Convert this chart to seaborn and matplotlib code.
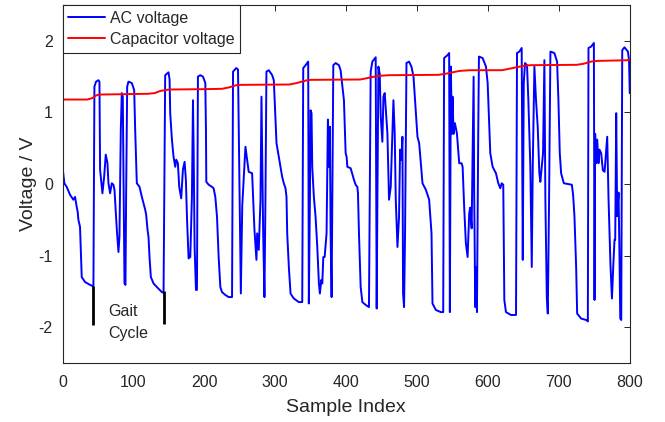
import matplotlib
matplotlib.use("Agg")
import matplotlib.pyplot as plt
import numpy as np
import seaborn as sns

# AC voltage trace (sample index, volts)
ac_index = [0, 2.6, 5.9, 10.6, 15.3, 17.7, 20.0, 21.4, 22.4, 24.7, 27.1, 31.8, 38.9, 43.6,
            45.0, 47.3, 50.6, 52.1, 53.0, 54.0, 56.3, 58.7, 61.0, 63.4, 64.8, 67.1, 69.5, 71.8,
            73.3, 76.6, 78.9, 80.3, 82.2, 83.6, 85.0, 86.0, 87.4, 88.8, 89.7, 91.2, 93.0, 97.8,
            101.1, 102.5, 104.8, 108.6, 111.9, 114.2, 116.6, 118.0, 119.9, 121.3, 122.7, 124.6,
            128.4, 133.1, 140.1, 142.5, 144.8, 149.5, 151.0, 151.9, 154.3, 156.6, 159.0, 160.4,
            162.7, 164.6, 167.4, 169.8, 172.2, 174.0, 175.5, 177.8, 180.2, 182.5, 184.0, 184.9,
            186.3, 188.2, 189.6, 190.5, 191.0, 194.3, 198.1, 201.4, 202.3, 202.8, 206.1, 210.8,
            213.1, 215.5, 217.9, 220.2, 222.6, 224.9, 229.6, 234.3, 239.1, 240.5, 245.0, 247.5,
            251.5, 253.5, 258.0, 262.6, 267.4, 270.7, 273.5, 274.5, 276.8, 279.2, 280.6, 283.0,
            284.8, 286.2, 287.6, 290.9, 295.7, 298.0, 301.8, 305.0, 307.4, 309.8, 312.1, 314.5,
            315.9, 316.9, 319.2, 321.6, 326.2, 333.3, 338.1, 339.5, 342.8, 346.5, 347.4, 348.9,
            349.8, 351.2, 352.2, 354.5, 356.9, 359.3, 361.6, 363.0, 365.0, 366.4, 367.8, 369.7,
            372.4, 374.3, 375.7, 377.1, 378.1, 379.5, 380.5, 381.9, 385.2, 389.8, 392.2, 396.9,
            399.3, 400.7, 401.7, 406.4, 411.0, 413.4, 415.8, 416.7, 418.1, 420.5, 422.9, 427.6,
            432.2, 434.6, 437.0, 441.7, 443.1, 444.1, 445.5, 447.4, 448.8, 451.1, 452.6, 454.4,
            458.2, 460.5, 462.9, 465.3, 466.7, 468.5, 470.0, 472.4, 474.6, 476.1, 478.0, 479.4,
            480.3, 481.7, 483.1, 485.1, 488.8, 492.1, 495.0, 498.2, 500.6, 503.0, 507.7, 512.4,
            517.1, 520.4, 521.8, 526.5, 533.6, 536.9, 538.2, 543.0, 545.3, 546.3, 547.7, 549.1,
            550.1, 551.5, 553.4, 556.2, 559.5, 562.8, 564.3, 566.5, 568.9, 571.3, 573.6, 575.0,
            577.0, 579.8, 580.6, 582.1, 583.0, 584.5, 586.3, 587.3, 592.5, 597.2, 599.6, 601.9,
            603.3, 606.6, 611.3, 614.6, 617.4, 619.4, 621.6, 623.1, 625.4, 632.5, 639.6, 641.0,
            644.3, 647.6, 649.1, 650.5, 652.3, 655.1, 657.0, 659.8, 661.8, 663.2, 665.5, 667.8,
            670.2, 672.5, 673.9, 675.9, 677.7, 679.6, 681.0, 683.0, 684.4, 686.2, 688.1, 693.7,
            697.5, 699.4, 701.3, 703.2, 707.0, 712.6, 718.3, 720.1, 722.0, 724.4, 725.8, 731.4,
            738.5, 740.9, 741.8, 745.6, 749.4, 750.3, 751.2, 752.7, 754.1, 755.9, 757.4, 759.7,
            762.1, 764.5, 766.8, 768.2, 770.1, 772.9, 774.9, 776.7, 778.5, 779.5, 780.9, 782.3,
            784.2, 785.6, 786.6, 788.0, 789.4, 792.6, 797.4, 799.0, 800.0]
ac_volts = [0.24, 0.01, -0.04, -0.15, -0.22, -0.18, -0.32, -0.39, -0.50, -0.60, -1.30, -1.37, -1.41, -1.43,
            1.36, 1.43, 1.45, 1.43, 0.20, 0.10, -0.13, 0.10, 0.41, 0.29, 0.01, -0.13, 0.01, -0.01,
            -0.08, -0.64, -0.95, -0.74, 0.75, 1.27, 1.22, 0.06, -1.39, -1.41, -0.18, 1.36, 1.43, 1.41,
            1.31, 0.75, 0.01, -0.04, -0.18, -0.27, -0.36, -0.43, -0.64, -0.74, -1.02, -1.30,
            -1.39, -1.44, -1.51, -1.52, 1.52, 1.56, 1.46, 0.99, 0.62, 0.38, 0.24, 0.34,
            0.29, -0.04, -0.20, 0.20, 0.31, 0.06, -0.46, -1.04, -1.02, -0.18, 1.17, 0.52,
            -0.88, -1.48, -1.48, 0.29, 1.50, 1.52, 1.50, 1.41, 0.76, 0.03, -0.01, -0.04,
            -0.06, -0.18, -0.46, -1.02, -1.44, -1.51, -1.55, -1.58, -1.58, 1.57, 1.62, 1.60,
            -1.53, -0.30, 0.52, 0.17, 0.15, -0.64, -1.06, -0.69, -0.92, -0.22, 1.22, -0.69,
            -1.58, -0.22, 1.57, 1.59, 1.52, 1.45, 0.57, 0.38, 0.24, 0.10, 0.01, -0.06,
            -0.18, -0.69, -1.16, -1.53, -1.60, -1.65, -1.65, 1.62, 1.66, 1.71, -1.67, -0.22,
            1.03, 0.99, 0.24, -0.18, -0.46, -0.88, -1.39, -1.53, -1.34, -1.39, -1.02, -1.02,
            -0.69, 0.90, 0.24, 0.80, -0.69, -1.58, -0.22, 1.66, 1.69, 1.66, 1.59, 1.17,
            0.43, 0.38, 0.24, 0.22, 0.06, -0.01, -0.04, -0.13, -0.69, -1.44, -1.65, -1.69,
            -1.72, 1.57, 1.71, 1.77, -1.74, -0.22, 1.64, 1.54, 0.94, 0.59, 1.22, 1.27,
            0.71, -0.22, -0.04, 0.71, 1.17, 0.71, -0.22, -0.88, -0.46, 0.48, 0.34, 0.66,
            -1.53, -1.72, -0.69, 1.69, 1.71, 1.64, 1.50, 1.03, 0.66, 0.57, 0.01, -0.08,
            -0.22, -0.69, -1.67, -1.76, -1.79, -1.79, 1.76, 1.80, 1.83, -1.79, 1.64, 0.70,
            1.22, 0.70, 0.85, 0.71, 0.29, 0.29, 0.24, -0.33, -0.83, -1.02, -0.41, -0.33,
            -0.62, 1.50, -0.13, -1.72, -1.16, -1.79, 0.71, 1.78, 1.76, 1.64, 1.41, 0.80,
            0.43, 0.24, 0.15, 0.01, -0.06, 0.01, -0.01, -1.62, -1.79, -1.83, -1.83, 1.83,
            1.85, 1.90, -1.06, 1.41, 1.69, 1.66, 1.17, 0.24, -1.16, 0.24, 1.64, 1.17,
            0.80, 0.15, 0.03, 0.24, 0.43, 1.73, -0.22, -1.58, -1.81, -0.22, 1.85, 1.83,
            1.71, 1.17, 0.43, 0.15, 0.01, 0.00, -0.01, -0.15, -0.45, -1.16, -1.81, -1.88,
            -1.90, -1.92, 1.90, 1.92, 1.97, -1.62, 0.70, 0.29, 0.62, 0.29, 0.48, 0.43,
            0.19, 0.17, 0.48, 0.66, -0.22, -1.16, -1.60, -1.16, -0.78, -0.78, 0.99, -0.45,
            -0.12, -1.06, -1.88, -1.90, 1.87, 1.91, 1.85, 1.73, 1.27]

# capacitor voltage (slow staircase)
cap_index = [0, 35, 42, 48, 53, 120, 130, 138, 150, 200, 225, 235, 245, 250, 320, 330, 345,
             350, 420, 430, 445, 460, 530, 540, 560, 575, 620, 630, 650, 660, 725, 735, 745,
             755, 800]
cap_volts = [1.18, 1.18, 1.20, 1.24, 1.25, 1.26, 1.27, 1.30, 1.32, 1.325, 1.33, 1.35, 1.38,
             1.385, 1.39, 1.41, 1.45, 1.455, 1.46, 1.48, 1.51, 1.52, 1.525, 1.54, 1.58, 1.59,
             1.59, 1.61, 1.65, 1.66, 1.665, 1.68, 1.71, 1.72, 1.73]

# gait cycle markers
gait_index = [43.6, 142.5]
gait_top = [-1.43, -1.50]
gait_bottom = [-1.97, -1.95]

sns.set_theme(style="white")
plt.rcParams['font.family'] = ['Liberation Sans', 'DejaVu Sans']
plt.rcParams['axes.unicode_minus'] = False
axis_grey = '#262626'

fig, ax = plt.subplots(figsize=(6.65, 4.22), dpi=100)
fig.subplots_adjust(left=0.094, right=0.947, top=0.988, bottom=0.14)

sns.lineplot(x=ac_index, y=ac_volts, sort=False, estimator=None, color='#0000ff',
             linewidth=1.4, label='AC voltage', ax=ax)
sns.lineplot(x=cap_index, y=cap_volts, sort=False, estimator=None, color='#ff0000',
             linewidth=1.4, label='Capacitor voltage', ax=ax)
ax.vlines(gait_index, gait_bottom, gait_top, colors='black', linewidth=2)
ax.text(65, -1.94, 'Gait\nCycle', fontsize=11.5, ha='left', va='center', linespacing=1.6)

ax.set_xlim(0, 800)
ax.set_ylim(-2.5, 2.5)
ax.set_xticks(np.arange(0, 801, 100))
ax.set_yticks([-2, -1, 0, 1, 2])
ax.set_xlabel('Sample Index', fontsize=14, color=axis_grey, labelpad=6)
ax.set_ylabel('Voltage / V', fontsize=14, color=axis_grey, labelpad=1)
ax.tick_params(direction='in', length=4, width=0.7, top=True, right=True,
               labelsize=11.5, colors=axis_grey)
ax.tick_params(axis='x', pad=9)
ax.tick_params(axis='y', pad=7)
for s in ax.spines.values():
    s.set_color(axis_grey)
    s.set_linewidth(0.8)

leg = ax.legend(loc='upper left', bbox_to_anchor=(0, 1), borderaxespad=0, fancybox=False,
                edgecolor=axis_grey, framealpha=1, fontsize=11.5, handlelength=2.3,
                borderpad=0.35, labelspacing=0.4, handletextpad=0.3)
leg.get_frame().set_linewidth(0.8)

plt.savefig('out.png', dpi=100)
